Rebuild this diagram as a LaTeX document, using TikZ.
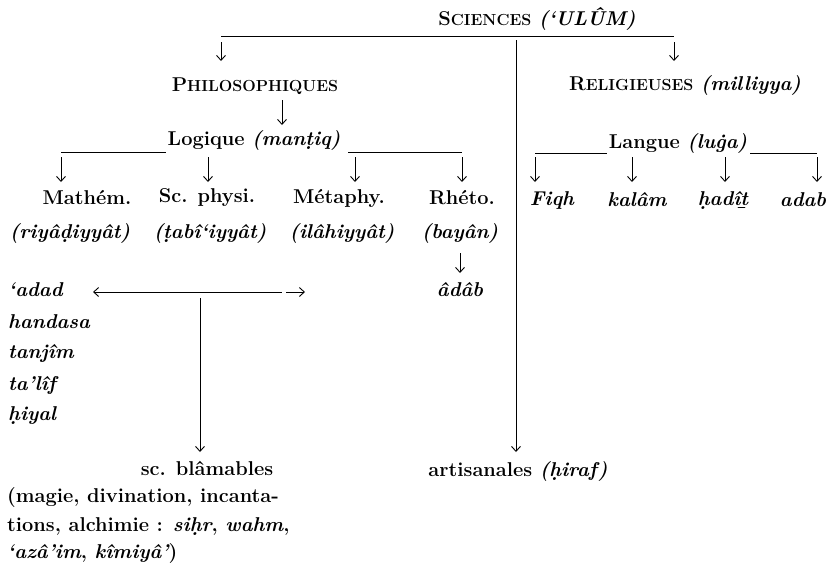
\documentclass[tikz,border=0pt]{standalone}
\usetikzlibrary{arrows.meta}
\newcommand\tr[1]{{\bfseries\itshape #1}}
\newcommand\fsc[2]{#1{\fontsize{16}{19}\selectfont #2}}
\begin{document}
\begin{tikzpicture}[x=1pt,y=-1pt,
  every node/.style={inner sep=0pt,font=\fontsize{20}{24}\selectfont\bfseries},
  ln/.style={line width=0.9pt},
  arr/.style={line width=0.9pt,-{Straight Barb[length=5pt,width=9pt]}},
  darr/.style={line width=0.9pt,{Straight Barb[length=5pt,width=9pt]}-{Straight Barb[length=5pt,width=9pt]}},
  lst/.style={anchor=west}]
\useasboundingbox (0,0) rectangle (831,565);
% top
\node (sci) at (537,19) {\fsc{S}{CIENCES} \tr{(‘ULÛM)}};
\coordinate (topL) at (221,36);
\coordinate (topR) at (674,36);
\coordinate (topM) at (516,40);
\coordinate (topMe) at (516,452);
\draw[ln] (topL) -- (topR);
\draw[arr] ([yshift=-6pt]topL) -- ++(0,19);
\draw[arr] ([yshift=-6pt]topR) -- ++(0,19);
% second level
\node (phil) at (255,86) {\fsc{P}{HILOSOPHIQUES}};
\node (rel) at (685,85) {\fsc{R}{ELIGIEUSES} \tr{(milliyya)}};
\node (art) at (518,471) {artisanales \tr{(\d{h}iraf)}};
\draw[arr] (topM) -- (topMe);
% logique
\coordinate (p1) at (282,100);
\coordinate (p2) at (282,125);
\node (log) at (254,140) {Logique \tr{(man\d{t}iq)}};
\draw[arr] (p1) -- (p2);
\coordinate (lL) at (61,152);
\coordinate (lR) at (462,152);
\draw[ln] (lL) -- ([xshift=-2pt]log.west |- lL);
\draw[ln] ([xshift=8pt]log.east |- lR) -- (lR);
\node (math) at (87,198) {Mathém.};
\node (phys) at (207,198) {Sc. physi.};
\node (meta) at (339,198) {Métaphy.};
\node (rhet) at (462,198) {Rhéto.};
\coordinate (am) at (61,157);
\coordinate (ap) at (208,157);
\coordinate (ae) at (355,157);
\coordinate (ar) at (462,157);
\foreach \n in {am,ap,ae,ar}{
  \draw[arr] (\n) -- ++(0,25);}
\node (riy) at (70,233) {\tr{(riyâ\d{d}iyyât)}};
\node (tab) at (210,233) {\tr{(\d{t}abî‘iyyât)}};
\node (ila) at (342,233) {\tr{(ilâhiyyât)}};
\node (bay) at (460,233) {\tr{(bayân)}};
\node (adb) at (460,290) {\tr{âdâb}};
\coordinate (b1) at (460,253);
\coordinate (b2) at (460,273);
\draw[arr] (b1) -- (b2);
% langue
\node (lang) at (678,143) {Langue \tr{(lu\.ga)}};
\coordinate (gL) at (535,153);
\coordinate (gR) at (817,153);
\draw[ln] (gL) -- ([xshift=-2pt]lang.west |- gL);
\draw[ln] ([xshift=3pt]lang.east |- gR) -- (gR);
\node (fiqh) at (552,200) {\tr{Fiqh}};
\node (kal) at (637,200) {\tr{kalâm}};
\node (had) at (723,200) {\tr{\d{h}adî\b{t}}};
\node (adab) at (803,200) {\tr{adab}};
\coordinate (f1) at (535,157);
\coordinate (k1) at (632,157);
\coordinate (h1) at (725,157);
\coordinate (d1) at (817,157);
\foreach \n in {f1,k1,h1,d1}{
  \draw[arr] (\n) -- ++(0,25);}
% list
\node[lst] (l1) at (8,290) {\tr{‘adad}};
\node[lst] (l2) at (8,322) {\tr{handasa}};
\node[lst] (l3) at (8,353) {\tr{tanjîm}};
\node[lst] (l4) at (8,385) {\tr{ta’lîf}};
\node[lst] (l5) at (8,416) {\tr{\d{h}iyal}};
\coordinate (dL) at (93,292);
\coordinate (dR) at (305,292);
\draw[darr,dash pattern=on 188pt off 4pt on 40pt] (dL) -- (dR);
\node (blam) at (207,468) {sc. blâmables};
\coordinate (vb) at (200,298);
\coordinate (vbe) at (200,452);
\draw[arr] (vb) -- (vbe);
\node[lst] (m1) at (7,498) {(magie, divination, incanta-};
\node[lst] (m2) at (7,527) {tions, alchimie : \tr{si\d{h}r}, \tr{wahm},};
\node[lst] (m3) at (7,554) {\tr{‘azâ’im}, \tr{kîmiyâ’})};
\end{tikzpicture}
\end{document}
